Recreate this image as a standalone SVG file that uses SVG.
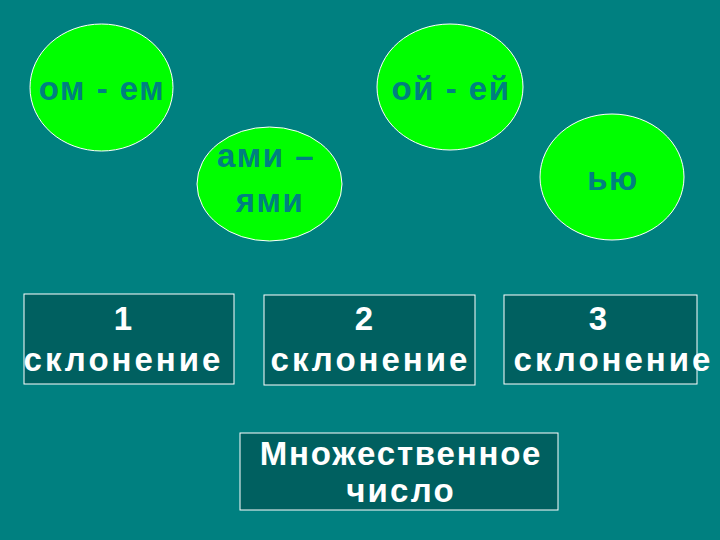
<svg xmlns="http://www.w3.org/2000/svg" width="720" height="540" viewBox="0 0 720 540">
<style>
.bg{fill:#008080}
.ell{fill:#00FF00;stroke:#FFFFFF;stroke-width:1}
.box{fill:#006060;stroke:#FFFFFF;stroke-width:1}
.et{font-family:"Liberation Sans",Arial,sans-serif;font-weight:bold;font-size:33px;fill:#008080;text-anchor:middle;letter-spacing:1.5px}
.bt{font-family:"Liberation Sans",Arial,sans-serif;font-weight:bold;font-size:33px;fill:#FFFFFF;text-anchor:middle}
.sk{letter-spacing:3px}
.mn{letter-spacing:1.8px}
.ch{letter-spacing:2.2px}
</style>
<rect class="bg" x="0" y="0" width="720" height="540"/>
<g id="node-om-em">
<ellipse class="ell" cx="101.5" cy="87.5" rx="71.5" ry="63.5"/>
<text class="et" x="102" y="100">ом - ем</text>
</g>
<g id="node-oj-ej">
<ellipse class="ell" cx="450" cy="87" rx="73" ry="63"/>
<text class="et" x="451" y="100">ой - ей</text>
</g>
<g id="node-ami-yami">
<ellipse class="ell" cx="269.5" cy="184" rx="72.5" ry="57"/>
<text class="et" x="266" y="167">ами –</text>
<text class="et" x="270" y="212">ями</text>
</g>
<g id="node-yu">
<ellipse class="ell" cx="612" cy="177" rx="72" ry="63"/>
<text class="et" x="613" y="190">ью</text>
</g>
<g id="node-decl1">
<rect class="box" x="24" y="294" width="210" height="90"/>
<text class="bt" x="123" y="330">1</text>
<text class="bt sk" x="123.5" y="371">склонение</text>
</g>
<g id="node-decl2">
<rect class="box" x="264" y="295" width="211" height="90"/>
<text class="bt" x="364" y="330">2</text>
<text class="bt sk" x="370.5" y="371">склонение</text>
</g>
<g id="node-decl3">
<rect class="box" x="504" y="295" width="193" height="89"/>
<text class="bt" x="598" y="330">3</text>
<text class="bt sk" x="613.5" y="371">склонение</text>
</g>
<g id="node-plural">
<rect class="box" x="240" y="433" width="318" height="77"/>
<text class="bt mn" x="401" y="465">Множественное</text>
<text class="bt ch" x="401" y="502">число</text>
</g>
<g id="connectors"></g>
</svg>
